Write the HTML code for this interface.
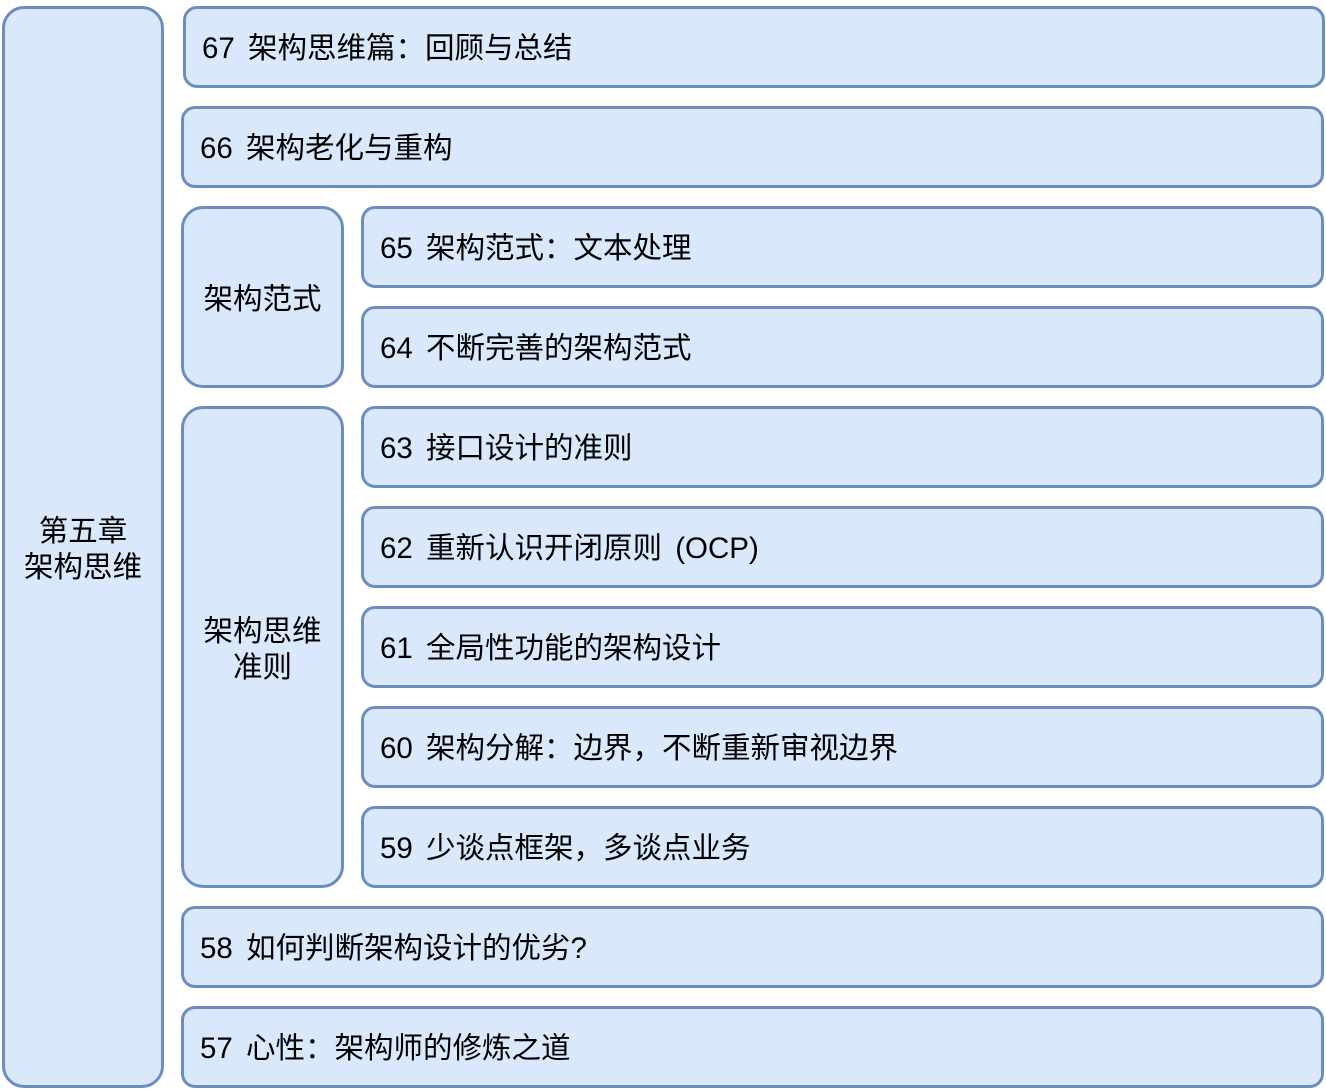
<!DOCTYPE html>
<html><head><meta charset="utf-8"><style>
body{margin:0;width:1326px;height:1092px;background:#fff;position:relative;overflow:hidden;font-family:"Liberation Sans","Noto Sans CJK SC",sans-serif;}
.b{position:absolute;box-sizing:border-box;background:#dae8fc;border:3px solid #6c8ebf;border-radius:14px;display:flex;align-items:center;font-size:29.5px;color:#000;padding-left:16px;padding-bottom:2px;white-space:nowrap;word-spacing:5px;}
.c{justify-content:center;text-align:center;padding-left:0;padding-bottom:0;padding-top:6px;line-height:36px;}
</style></head><body>
<div class="b c" style="left:2px;top:6px;width:162px;height:1082px;border-radius:22px;">第五章<br>架构思维</div>
<div class="b" style="left:183px;top:6px;width:1142px;height:82px;">67 架构思维篇：回顾与总结</div>
<div class="b" style="left:181px;top:106px;width:1143px;height:82px;">66 架构老化与重构</div>
<div class="b c" style="left:181px;top:206px;width:163px;height:182px;border-radius:22px;">架构范式</div>
<div class="b" style="left:361px;top:206px;width:963px;height:82px;">65 架构范式：文本处理</div>
<div class="b" style="left:361px;top:306px;width:963px;height:82px;">64 不断完善的架构范式</div>
<div class="b c" style="left:181px;top:406px;width:163px;height:482px;border-radius:22px;">架构思维<br>准则</div>
<div class="b" style="left:361px;top:406px;width:963px;height:82px;">63 接口设计的准则</div>
<div class="b" style="left:361px;top:506px;width:963px;height:82px;">62 重新认识开闭原则 (OCP)</div>
<div class="b" style="left:361px;top:606px;width:963px;height:82px;">61 全局性功能的架构设计</div>
<div class="b" style="left:361px;top:706px;width:963px;height:82px;">60 架构分解：边界，不断重新审视边界</div>
<div class="b" style="left:361px;top:806px;width:963px;height:82px;">59 少谈点框架，多谈点业务</div>
<div class="b" style="left:181px;top:906px;width:1143px;height:82px;">58 如何判断架构设计的优劣?</div>
<div class="b" style="left:181px;top:1006px;width:1143px;height:82px;">57 心性：架构师的修炼之道</div>
</body></html>
